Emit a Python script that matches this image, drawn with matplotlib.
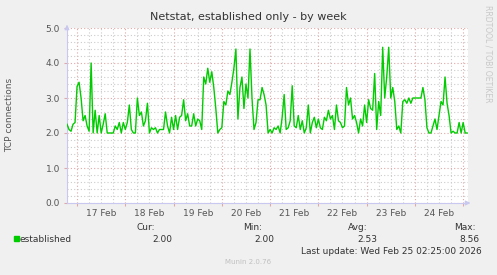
import datetime as dt
import matplotlib
matplotlib.use("Agg")
import matplotlib.pyplot as plt
import matplotlib.dates as mdates
from matplotlib.ticker import MultipleLocator, FuncFormatter

# hourly samples starting Feb 16 19:00
start = dt.datetime(2026, 2, 16, 19, 0)
end = dt.datetime(2026, 2, 25, 2, 25)
established = [
    2.25, 2.1, 2.05, 2.25, 2.3, 3.33, 3.45, 3.0, 2.35, 2.5,
    2.2, 2.05, 4.0, 2.0, 2.65, 2.0, 2.5, 2.0, 2.25, 2.55,
    2.0, 2.0, 2.0, 2.0, 2.2, 2.1, 2.3, 2.0, 2.3, 2.1,
    2.3, 2.8, 2.1, 2.0, 2.0, 3.0, 2.5, 2.6, 2.2, 2.35,
    2.85, 2.0, 2.15, 2.1, 2.15, 2.0, 2.1, 2.1, 2.1, 2.6,
    2.2, 2.0, 2.45, 2.1, 2.5, 2.1, 2.45, 2.5, 2.95, 2.35,
    2.55, 2.2, 2.2, 2.55, 2.2, 2.4, 2.35, 2.1, 3.6, 3.4,
    3.85, 3.45, 3.75, 3.3, 2.7, 2.0, 2.1, 2.15, 2.9, 2.8,
    3.2, 3.1, 3.45, 3.85, 4.4, 2.4, 3.3, 3.6, 2.7, 3.4,
    3.0, 4.4, 3.0, 2.1, 2.3, 2.95, 2.95, 3.3, 3.1, 2.8,
    2.0, 2.1, 2.0, 2.15, 2.1, 2.2, 2.0, 2.45, 3.1, 2.1,
    2.15, 2.35, 3.35, 2.2, 2.15, 2.5, 2.1, 2.35, 2.0, 2.15,
    2.8, 2.0, 2.3, 2.45, 2.15, 2.4, 2.15, 2.1, 2.45, 2.35,
    2.65, 2.4, 2.5, 2.1, 2.8, 2.35, 2.3, 2.15, 2.2, 3.3,
    2.8, 3.0, 2.4, 2.5, 2.3, 2.0, 2.4, 2.2, 2.8, 2.3,
    2.95, 2.7, 2.65, 3.7, 2.1, 2.9, 2.5, 4.45, 3.0, 3.6,
    4.45, 3.0, 3.3, 2.9, 2.1, 2.2, 2.0, 2.9, 2.95, 2.85,
    3.0, 2.85, 3.0, 3.0, 3.0, 3.0, 3.0, 3.3, 2.95, 2.15,
    2.0, 2.0, 2.2, 2.4, 2.1, 2.5, 2.9, 2.8, 3.6, 2.85,
    2.5, 2.0, 2.05, 2.0, 2.0, 2.3, 2.0, 2.3, 2.0, 2.0,
]
times = [start + dt.timedelta(hours=i) for i in range(len(established))]

stat_labels = ["Cur:", "Min:", "Avg:", "Max:"]
stat_values = ["2.00", "2.00", "2.53", "8.56"]

W, H = 497, 275
BG = "#f0f0f0"
AXIS = "#c8c8f0"
MAJOR = "#e0a8a8"
MINOR = "#cccccc"
TXT = "#555555"


def fx(px):
    return px / W


def fy(py):
    return 1 - py / H


def main():
    fig = plt.figure(figsize=(W / 100, H / 100), dpi=100, facecolor=BG)
    ax = fig.add_axes([fx(67), fy(203), fx(468 - 67), (203 - 28) / H])
    ax.set_facecolor("white")

    ax.plot(times, established, color="#00cc00", lw=1.0, zorder=3)

    ax.set_xlim(start, end)
    ax.set_ylim(0, 5)

    # x: red lines at midnight, grey every 6h, labels at noon
    ax.xaxis.set_major_locator(mdates.DayLocator())
    ax.xaxis.set_major_formatter(FuncFormatter(lambda v, p: ""))
    ax.xaxis.set_minor_locator(mdates.HourLocator(byhour=[6, 12, 18]))

    def noon_label(v, p):
        d = mdates.num2date(v)
        return d.strftime("%d %b") if d.hour == 12 else ""
    ax.xaxis.set_minor_formatter(FuncFormatter(noon_label))

    ax.yaxis.set_major_locator(MultipleLocator(1.0))
    ax.yaxis.set_minor_locator(MultipleLocator(0.2))
    ax.yaxis.set_major_formatter(FuncFormatter(lambda v, p: "%.1f" % v))

    ax.grid(which="major", color=MAJOR, ls=(0, (1, 2)), lw=0.8, zorder=1)
    ax.grid(which="minor", color=MINOR, ls=(0, (1, 2)), lw=0.8, zorder=0)

    ax.tick_params(axis="both", which="both", labelsize=6.5, labelcolor=TXT)
    ax.tick_params(axis="x", which="major", length=2, color=MAJOR, direction="out")
    ax.tick_params(axis="x", which="minor", length=0, pad=4)
    ax.tick_params(axis="y", which="major", length=2, color=MAJOR, pad=3)
    ax.tick_params(axis="y", which="minor", length=0)

    for s in ["top", "right"]:
        ax.spines[s].set_visible(False)
    for s in ["left", "bottom"]:
        ax.spines[s].set_color(AXIS)
        ax.spines[s].set_linewidth(0.8)

    # axis arrows
    ax.annotate("", xy=(1.013, 0), xytext=(0.99, 0), xycoords="axes fraction",
                arrowprops=dict(arrowstyle="-|>", color=AXIS, lw=0.8,
                                mutation_scale=7), annotation_clip=False)
    ax.annotate("", xy=(0, 1.035), xytext=(0, 0.98), xycoords="axes fraction",
                arrowprops=dict(arrowstyle="-|>", color=AXIS, lw=0.8,
                                mutation_scale=7), annotation_clip=False)

    fig.text(fx(248), fy(17), "Netstat, established only - by week",
             ha="center", va="center", fontsize=8, color="#333333")
    fig.text(fx(10), fy(115), "TCP connections", rotation=90,
             ha="center", va="center", fontsize=6.5, color=TXT)
    fig.text(fx(488), fy(5), "RRDTOOL / TOBI OETIKER", rotation=270,
             ha="center", va="top", fontsize=5.5, color="#c8c8c8")

    # legend block
    fig.patches.append(plt.Rectangle((fx(14), fy(241)), fx(5), 5 / H,
                                     transform=fig.transFigure,
                                     color="#00cc00"))
    fig.text(fx(20), fy(239), "established", ha="left", va="center",
             fontsize=6.5, color="#333333")
    lab_x = [155, 262, 368, 476]
    val_x = [172, 274, 377, 479]
    for lab, val, lx, vx in zip(stat_labels, stat_values, lab_x, val_x):
        fig.text(fx(lx), fy(227), lab, ha="right", va="center",
                 fontsize=6.5, color="#333333")
        fig.text(fx(vx), fy(239), val, ha="right", va="center",
                 fontsize=6.5, color="#333333")
    fig.text(fx(482), fy(251), "Last update: Wed Feb 25 02:25:00 2026",
             ha="right", va="center", fontsize=6.5, color="#333333")
    fig.text(fx(248), fy(262), "Munin 2.0.76", ha="center", va="center",
             fontsize=5, color="#c0c0c0")

    fig.savefig("out.png", dpi=100, facecolor=BG)


if __name__ == "__main__":
    main()
